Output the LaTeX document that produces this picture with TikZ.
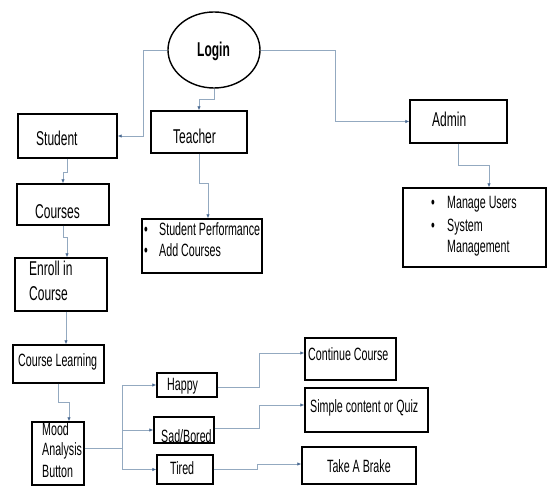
\documentclass[tikz,border=0pt]{standalone}
\usepackage{fontspec}
\setmainfont{Liberation Sans}[FakeStretch=0.6]
\usetikzlibrary{arrows.meta,calc,shapes.geometric}
\definecolor{lnk}{HTML}{93A9C0}
\definecolor{tipc}{HTML}{4A6A92}
\begin{document}
\begin{tikzpicture}[x=1pt,y=-1pt,
  box/.style={draw=black,line width=1.4pt,inner sep=0pt},
  lbl/.style={anchor=base west,inner sep=0pt,font=\fontsize{17.8}{21}\selectfont},
  big/.style={anchor=base west,inner sep=0pt,font=\fontsize{20}{24}\selectfont},
  conn/.style={draw=lnk,line width=0.9pt},
  arr/.style={conn,-{Latex[length=4pt,width=3.5pt,color=tipc]}}]
\useasboundingbox (0,0) rectangle (551,486);
\fill[white] (0,0) rectangle (551,486);
% boxes
\node[draw=black,line width=1.4pt,ellipse,minimum width=92pt,minimum height=76pt,inner sep=0pt] (login) at (214,50) {};
\node[box,minimum width=99pt,minimum height=44pt] (student) at (67.5,136) {};
\node[box,minimum width=96pt,minimum height=42pt] (teacher) at (199,132) {};
\node[box,minimum width=97pt,minimum height=43pt] (admin) at (458.5,121.5) {};
\node[box,minimum width=143pt,minimum height=79pt] (manage) at (474.5,227.5) {};
\node[box,minimum width=120pt,minimum height=54pt] (sp) at (202,246) {};
\node[box,minimum width=92pt,minimum height=41pt] (courses) at (63,204.5) {};
\node[box,minimum width=92pt,minimum height=53pt] (enroll) at (61,284.5) {};
\node[box,minimum width=91pt,minimum height=38pt] (cl) at (58.5,364) {};
\node[box,minimum width=52pt,minimum height=63pt] (mood) at (58,453.5) {};
\node[box,minimum width=60pt,minimum height=24pt] (happy) at (187,385) {};
\node[box,minimum width=60pt,minimum height=26pt] (sad) at (184,430) {};
\node[box,minimum width=56pt,minimum height=29pt] (tired) at (185,469.5) {};
\node[box,minimum width=91pt,minimum height=42pt] (cont) at (350.5,359) {};
\node[box,minimum width=123pt,minimum height=44pt] (simple) at (366.5,410) {};
\node[box,minimum width=114pt,minimum height=37pt] (take) at (359,465.5) {};
% texts
\node[big,font=\bfseries\fontsize{20}{24}\selectfont] (loginT) at (197,57) {Login};
\node[big] (studentT) at (36,146) {Student};
\node[big] (teacherT) at (173,144) {Teacher};
\node[big] (adminT) at (432,127) {Admin};
\node[big] (coursesT) at (35,219) {Courses};
\node[big] (enrollT1) at (29,276) {Enroll in};
\node[big] (enrollT2) at (29,300) {Course};
\node[lbl] (clT) at (18,366) {Course Learning};
\node[lbl] (moodT1) at (42,435) {Mood};
\node[lbl] (moodT2) at (42,455) {Analysis};
\node[lbl] (moodT3) at (42,477) {Button};
\node[lbl] (happyT) at (167,390) {Happy};
\node[lbl] (sadT) at (161,442) {Sad/Bored};
\node[lbl] (tiredT) at (170,474) {Tired};
\node[lbl] (contT) at (308,360) {Continue Course};
\node[lbl] (simpleT) at (310,412) {Simple content or Quiz};
\node[lbl] (takeT) at (327,472) {Take A Brake};
\node[lbl] (spB1) at (144,236) {•};
\node[lbl] (spT1) at (159,236) {Student Performance};
\node[lbl] (spB2) at (144,257) {•};
\node[lbl] (spT2) at (159,257) {Add Courses};
\node[lbl] (mB1) at (431,209) {•};
\node[lbl] (mT1) at (447,209) {Manage Users};
\node[lbl] (mB2) at (431,232) {•};
\node[lbl] (mT2) at (447,232) {System};
\node[lbl] (mT3) at (447,253) {Management};
% connectors
\draw[arr] (login.west) -- (143,50) |- (student.east);
\draw[arr] (login.south) -- (214,99) -| (teacher.north);
\draw[arr] (login.east) -- (335,50) |- (admin.west);
\draw[arr] (admin.south) -- (458.5,165) -| ($(manage.north)+(14.5,0)$);
\draw[arr] (teacher.south) -- (199,183) -| ($(sp.north)+(6,0)$);
\draw[arr] (student.south) -- (67.5,172) -| (courses.north);
\draw[arr] (courses.south) -- (63,237) -| ($(enroll.north)+(6,0)$);
\coordinate (eo) at ($(enroll.south)+(5,0)$);
\draw[arr] (eo) -- (eo |- cl.north);
\draw[arr] (cl.south) -- (58.5,402) -| ($(mood.north)+(11,0)$);
\coordinate (split) at (122,448);
\draw[conn] ($(mood.east)+(0,-5.5)$) -- (split);
\draw[arr] (split) |- (happy.west);
\draw[arr] (split) |- (sad.west);
\draw[arr] (split) |- (tired.west);
\draw[arr] ($(happy.east)+(0,2)$) -- (259,387) |- ($(cont.west)+(0,-6)$);
\draw[arr] ($(sad.east)+(0,-2)$) -- (259,428) |- ($(simple.west)+(0,-5)$);
\draw[arr] (tired.east) -- (257,469.5) |- ($(take.west)+(0,-1.5)$);
\end{tikzpicture}
\end{document}
